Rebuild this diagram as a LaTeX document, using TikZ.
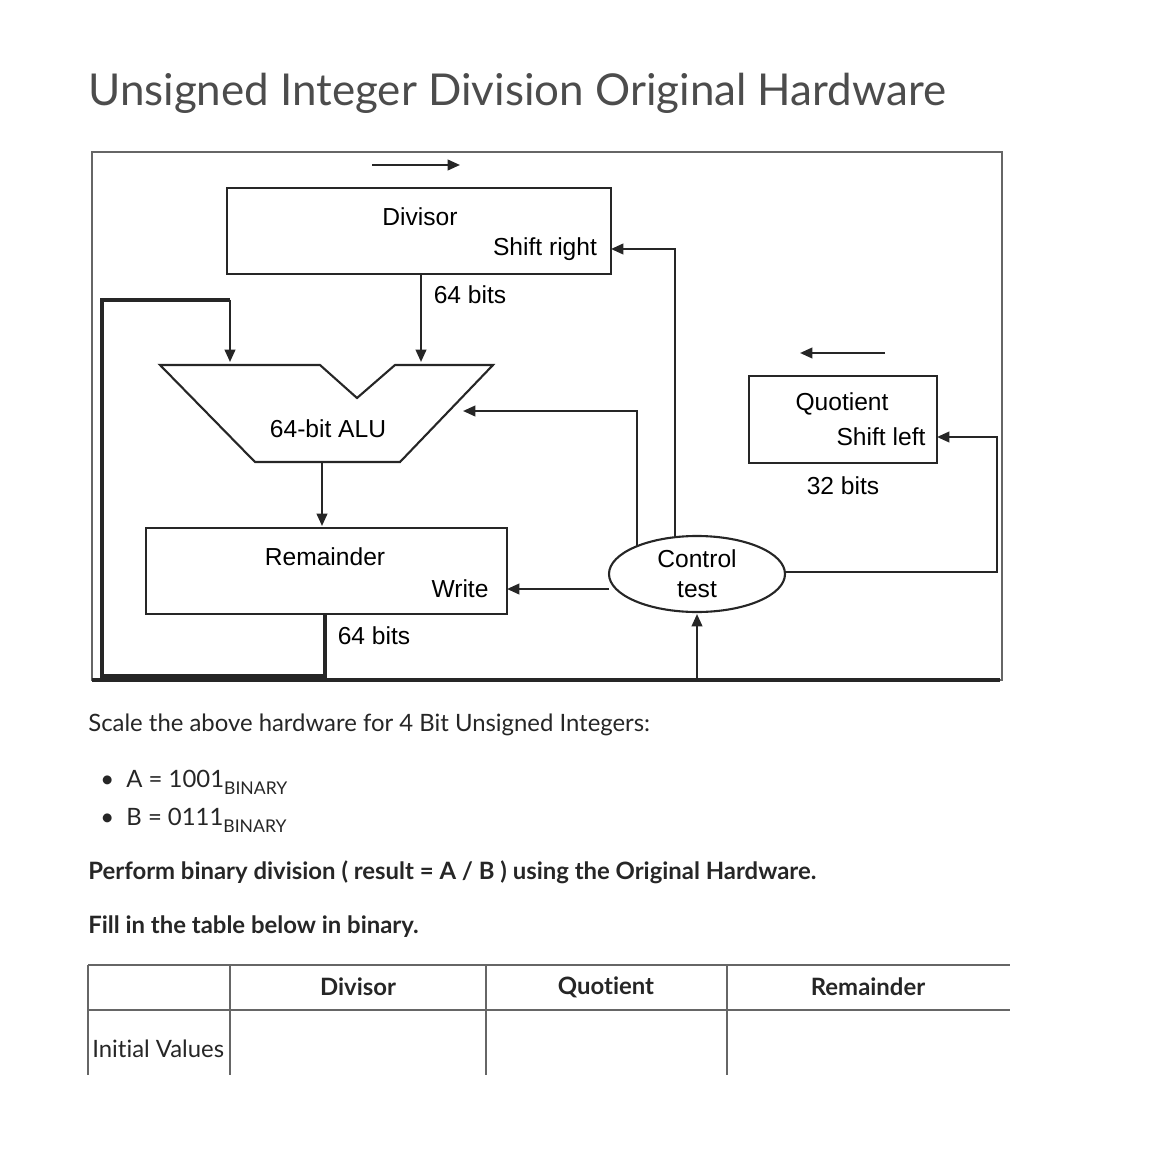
\documentclass[tikz,border=0pt]{standalone}
\usepackage{fontspec}
\setmainfont[Ligatures={NoCommon,NoRare,NoDiscretionary}]{Lato}
\newfontfamily\arial{Liberation Sans}
\usetikzlibrary{arrows.meta}
\begin{document}
\begin{tikzpicture}[x=0.02cm,y=-0.02cm,
  ln/.style={line width=1.2pt,black!85},
  ar/.style={ln,-{Triangle[length=7pt,width=6pt]}},
  lbl/.style={font=\arial\fontsize{14}{15}\selectfont,inner sep=0pt},
  txt/.style={font=\fontsize{13.6}{15}\selectfont,inner sep=0pt,anchor=west,text=black!85},
  hd/.style={font=\bfseries\fontsize{13.6}{15}\selectfont,inner sep=0pt,text=black!85}]
\useasboundingbox (0,0) rectangle (1170,1172);
\node[inner sep=0pt,anchor=west,text=black!70,font=\fontsize{25}{28}\selectfont] (title) at (88,93) {Unsigned Integer Division Original Hardware};
% frame
\draw[black!60,line width=1.5pt] (92,152) rectangle (1002,680);
\draw[ln,line width=2pt] (92,680) -- (1000,680);
% divisor
\draw[ln] (227,188) rectangle (611,274);
\node[lbl] (dv) at (420,217) {Divisor};
\node[lbl] (sr) at (545,249) {Shift right};
\coordinate (dvR) at (611,249);
\draw[ar] (372,165) -- (460,165);
\coordinate (c1) at (675,249);
\draw[ar] (675,537) -- (c1) -- (dvR);
\node[lbl] (b1) at (470,295) {64 bits};
% ALU
\draw[ln] (160,365) -- (320,365) -- (357,398) -- (395,365) -- (493,365) -- (400,462) -- (255,462) -- cycle;
\node[lbl] (alu) at (328,429) {64-bit ALU};
\coordinate (aluA) at (421,362);
\coordinate (aluB) at (230,362);
\coordinate (aluR) at (463,411);
\draw[ar] (421,274) -- (aluA);
\draw[ln,line width=2.2pt] (325,614) -- (325,676) -- (102,676) -- (102,300) -- (230,300);
\draw[ar] (230,300) -- (aluB);
\draw[ar] (637,547) -- (637,411) -- (aluR);
\draw[ar] (322,462) -- (322,526);
% remainder
\draw[ln] (146,528) rectangle (507,614);
\node[lbl] (rm) at (325,557) {Remainder};
\node[lbl] (wr) at (460,589) {Write};
\node[lbl] (b2) at (374,636) {64 bits};
% control
\draw[ln] (697,574) ellipse [x radius=88, y radius=38];
\node[lbl,align=center] (ct) at (697,574) {Control\\[2pt]test};
\draw[ar] (609,589) -- (507,589);
\draw[ar] (697,678) -- (697,614);
% quotient
\draw[ln] (749,376) rectangle (937,463);
\node[lbl] (qt) at (842,404) {Quotient};
\node[lbl] (sl) at (881,437) {Shift left};
\node[lbl] (b3) at (843,486) {32 bits};
\draw[ar] (885,353) -- (800,353);
\draw[ar] (785,572) -- (997,572) -- (997,437) -- (937,437);
% text
\node[txt] (s1) at (88,725) {Scale the above hardware for 4 Bit Unsigned Integers:};
\node[txt] (s2) at (100,782) {\textbullet\ \ A = 1001\raisebox{-0.6ex}{\fontsize{10}{12}\selectfont BINARY}};
\node[txt] (s3) at (100,820) {\textbullet\ \ B = 0111\raisebox{-0.6ex}{\fontsize{10}{12}\selectfont BINARY}};
\node[txt,font=\bfseries\fontsize{13.6}{15}\selectfont] (s4) at (88,872) {Perform binary division ( result = A / B ) using the Original Hardware.};
\node[txt,font=\bfseries\fontsize{13.6}{15}\selectfont] (s5) at (88,927) {Fill in the table below in binary.};
% table
\draw[black!60,line width=0.8pt] (88,965) -- (1010,965) (88,1010) -- (1010,1010)
  (88,965) -- (88,1075) (230,965) -- (230,1075) (486,965) -- (486,1075) (727,965) -- (727,1075);
\node[hd] (h1) at (358,987) {Divisor};
\node[hd] (h2) at (606,987) {Quotient};
\node[hd] (h3) at (868,987) {Remainder};
\node[txt] (iv) at (92,1049) {Initial Values};
\end{tikzpicture}
\end{document}
